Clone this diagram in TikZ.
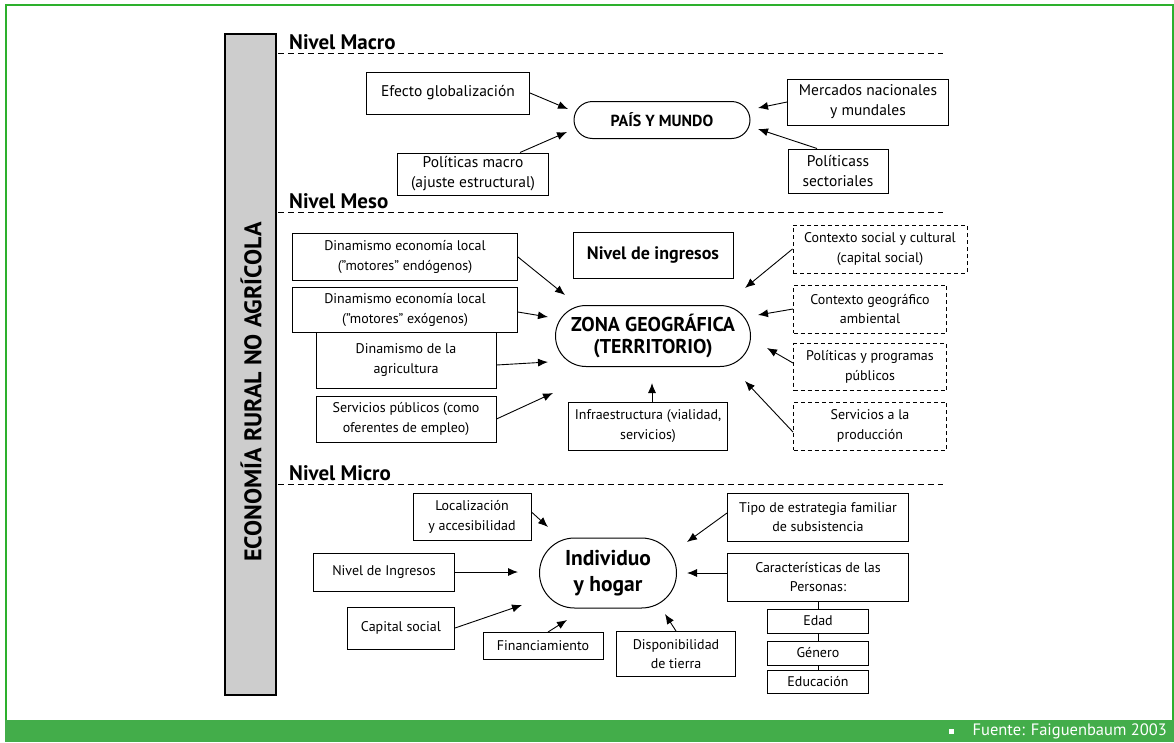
\documentclass[tikz,border=0pt]{standalone}
\usepackage{fontspec}
\setmainfont{PT Sans}
\usepackage{tikz}
\usetikzlibrary{shapes}
\usetikzlibrary{arrows.meta}
\usetikzlibrary{calc}
\definecolor{framegreen}{HTML}{2DB02D}
\definecolor{bargreen}{HTML}{43AD4A}
\definecolor{barfill}{HTML}{CDCDCD}

\begin{document}
\begin{tikzpicture}[x=1pt, y=-1pt]
        \tikzstyle{box} = [rectangle, draw, line width=1pt, fill=white, align=center, inner sep=2pt, font=\fontsize{14}{19.5}\selectfont]
        \tikzstyle{mbox} = [box, font=\fontsize{15.5}{20}\selectfont]
        \tikzstyle{dbox} = [box, dash pattern=on 4pt off 3pt]
        \tikzstyle{oval} = [rounded rectangle, draw, line width=1pt, align=center, inner sep=2pt]
        \tikzstyle{arr} = [-{Latex[length=10pt, width=8pt]}, line width=0.9pt]
        \tikzstyle{level} = [anchor=base west, font=\fontsize{21}{24}\selectfont\bfseries, inner sep=0pt]

        \useasboundingbox (0,0) rectangle (1174,742);

        % frame and footer
        \draw[framegreen, line width=1.5pt] (6,720) -- (6,5) -- (1173,5) -- (1173,720);
        \fill[bargreen] (5,720) rectangle (1174,742);
        \node[fill=white, minimum size=5pt, inner sep=0pt] (bullet) at (951,731) {};
        \node[text=white, anchor=east, inner sep=0pt, font=\fontsize{16.5}{18}\selectfont] (src) at (1167,731) {Fuente: Faiguenbaum 2003};

        % side bar
        \node[draw, fill=barfill, line width=1.2pt, minimum width=51pt, minimum height=661pt, inner sep=0pt] (bar) at (250.5,364.5) {};
        \node[rotate=90, inner sep=0pt, font=\fontsize{24}{26}\selectfont\bfseries] (bartext) at (251,392) {ECONOMÍA RURAL NO AGRÍCOLA};

        % levels
        \foreach \y/\t in {53/Macro, 212/Meso, 484/Micro}
        {
                \draw[dash pattern=on 6pt off 4pt, line width=0.8pt] (278,\y) -- (943,\y);
                \node[level] (l\t) at (289,\y-4) {Nivel \t};
        }

        % nivel macro
        \node[oval, minimum width=180pt, minimum height=37pt, font=\fontsize{16}{18}\selectfont\bfseries] (pais) at (662,120) {PAÍS Y MUNDO};
        \node[mbox, minimum width=163pt, minimum height=42pt] (glob) at (448,93) {Efecto globalización};
        \node[mbox, minimum width=151pt, minimum height=42pt] (polmac) at (473,174) {Políticas macro\\(ajuste estructural)};
        \node[mbox, minimum width=161pt, minimum height=46pt] (merc) at (868,102) {Mercados nacionales\\y mundales};
        \node[mbox, minimum width=100pt, minimum height=44pt] (polsec) at (838,171) {Políticass\\sectoriales};

        \coordinate (p1) at (568,109);
        \coordinate (p2) at (567,132);
        \coordinate (p3) at (758,108);
        \coordinate (p4) at (758,129);
        \draw[arr] (glob.east) -- (p1);
        \draw[arr] ($(polmac.north)+(47,0)$) -- (p2);
        \draw[arr] (merc.west) -- (p3);
        \draw[arr] ($(polsec.north)+(-21,0)$) -- (p4);

        % nivel meso
        \node[oval, minimum width=199pt, minimum height=61pt, font=\fontsize{20}{22}\selectfont\bfseries] (zona) at (653,336) {ZONA GEOGRÁFICA\\(TERRITORIO)};
        \node[box, minimum width=160pt, minimum height=46pt, font=\fontsize{18}{20}\selectfont\bfseries] (ingr) at (653,255) {Nivel de ingresos};
        \node[box, minimum width=225pt, minimum height=47pt] (endo) at (405,257) {Dinamismo economía local\\(”motores” endógenos)};
        \node[box, minimum width=225pt, minimum height=45pt] (exo) at (405,310) {Dinamismo economía local\\(”motores” exógenos)};
        \node[box, minimum width=180pt, minimum height=56pt] (agri) at (406,360) {Dinamismo de la\\agricultura};
        \node[box, minimum width=180pt, minimum height=46pt] (serv) at (406,419) {Servicios públicos (como\\oferentes de empleo)};
        \node[box, minimum width=159pt, minimum height=48pt] (infra) at (648,426) {Infraestructura (vialidad,\\servicios)};
        \node[dbox, minimum width=174pt, minimum height=48pt] (social) at (880,249) {Contexto social y cultural\\(capital social)};
        \node[dbox, minimum width=153pt, minimum height=48pt] (geo) at (870,309) {Contexto geográfico\\ambiental};
        \node[dbox, minimum width=153pt, minimum height=47pt] (polprog) at (870,367) {Políticas y programas\\públicos};
        \node[dbox, minimum width=153pt, minimum height=48pt] (prod) at (870,426) {Servicios a la\\producción};

        \coordinate (z1) at (565,295);
        \coordinate (z2) at (548,317);
        \coordinate (z3) at (548,362);
        \coordinate (z4) at (553,393);
        \coordinate (z5) at (652,383);
        \coordinate (z6) at (745,288);
        \coordinate (z7) at (758,315);
        \coordinate (z8) at (767,348);
        \coordinate (z9) at (745,381);
        \draw[arr] (endo.east) -- (z1);
        \draw[arr] ($(exo.east)+(0,2)$) -- (z2);
        \draw[arr] ($(agri.east)+(0,5)$) -- (z3);
        \draw[arr] (serv.east) -- (z4);
        \draw[arr] ($(infra.north)+(4,0)$) -- (z5);
        \draw[arr] (social.west) -- (z6);
        \draw[arr] (geo.west) -- (z7);
        \draw[arr] ($(polprog.west)+(0,-4)$) -- (z8);
        \draw[arr] ($(prod.west)+(0,6)$) -- (z9);

        % nivel micro
        \node[oval, minimum width=141pt, minimum height=70pt, font=\fontsize{21.5}{26}\selectfont\bfseries] (indiv) at (608,573) {Individuo\\y hogar};
        \node[box, minimum width=118pt, minimum height=47pt] (loc) at (472,517) {Localización\\y accesibilidad};
        \node[box, minimum width=141pt, minimum height=38pt] (ningr) at (384,572) {Nivel de Ingresos};
        \node[box, minimum width=107pt, minimum height=42pt] (capsoc) at (401,628) {Capital social};
        \node[box, minimum width=120pt, minimum height=27pt] (fin) at (543,646) {Financiamiento};
        \node[box, minimum width=119pt, minimum height=45pt] (disp) at (676,654) {Disponibilidad\\de tierra};
        \node[box, minimum width=181pt, minimum height=48pt] (tipo) at (818,517) {Tipo de estrategia familiar\\de subsistencia};
        \node[box, minimum width=181pt, minimum height=48pt] (carac) at (818,577) {Características de las\\Personas:};
        \node[box, minimum width=101pt, minimum height=24pt] (edad) at (818,621) {Edad};
        \node[box, minimum width=101pt, minimum height=24pt] (gen) at (818,653) {Género};
        \node[box, minimum width=101pt, minimum height=23pt] (edu) at (818,682) {Educación};
        \draw[line width=1pt] (carac) -- (edad) -- (gen) -- (edu);

        \coordinate (h1) at (548,527);
        \coordinate (h2) at (518,572);
        \coordinate (h3) at (522,605);
        \coordinate (h4) at (567,620);
        \coordinate (h5) at (665,614);
        \coordinate (h6) at (687,542);
        \coordinate (h7) at (687,573);
        \draw[arr] ($(loc.east)+(0,-5)$) -- (h1);
        \draw[arr] (ningr.east) -- (h2);
        \draw[arr] (capsoc.east) -- (h3);
        \draw[arr] ($(fin.north)+(5,0)$) -- (h4);
        \draw[arr] (disp.north) -- (h5);
        \draw[arr] ($(tipo.west)+(0,-4)$) -- (h6);
        \draw[arr] ($(carac.west)+(0,-4)$) -- (h7);
\end{tikzpicture}
\end{document}
